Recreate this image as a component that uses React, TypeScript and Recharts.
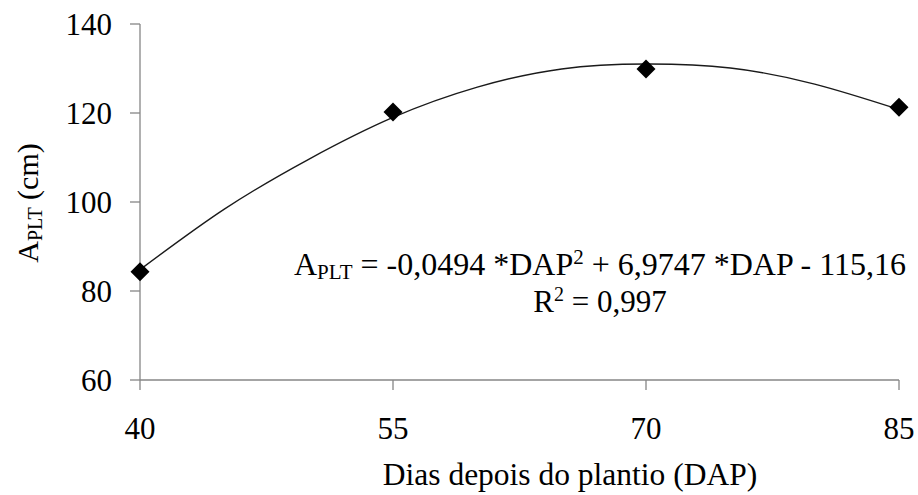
import React from 'react';
import { ComposedChart, Line, Scatter, XAxis, YAxis, Customized } from 'recharts';

// days after planting (DAP) and measured plant height, cm
const dayTicks = [40, 55, 70, 85];
const heightTicks = [60, 80, 100, 120, 140];
const observedDays = [40, 55, 70, 85];
const observedHeight = [84.3, 120.2, 129.9, 121.3];

// fitted quadratic trend, sampled every 5 days
const fitDays = [40, 45, 50, 55, 60, 65, 70, 75, 80, 85];
const fitHeight = [84.8, 98.4, 109.6, 119.0, 125.8, 129.9, 131.0, 130.1, 126.5, 120.8];

const observed = observedDays.map((day, i) => ({ day, height: observedHeight[i] }));
const fitted = fitDays.map((day, i) => ({ day, fit: fitHeight[i] }));

const FONT = 'Liberation Serif';
const AXIS_GREY = '#868686';

const Diamond = (props: any) => {
  const { cx, cy } = props;
  const r = 9.5;
  return (
    <path
      d={`M${cx},${cy - r}L${cx + r},${cy}L${cx},${cy + r}L${cx - r},${cy}Z`}
      fill="#000"
    />
  );
};

const Annotations = () => (
  <g fontFamily={FONT} fill="#000">
    <text x={38} y={203} fontSize={30} textAnchor="middle" transform="rotate(-90, 38, 203)">
      A<tspan fontSize={20} dy={4}>PLT</tspan>
      <tspan dy={-4}> (cm)</tspan>
    </text>
    <text x={570} y={485} fontSize={31.5} textAnchor="middle">
      Dias depois do plantio (DAP)
    </text>
    <text x={600} y={275} fontSize={32} textAnchor="middle">
      A<tspan fontSize={21} dy={4}>PLT</tspan>
      <tspan dy={-4}> = -0,0494 *DAP</tspan>
      <tspan fontSize={21} dy={-11}>2</tspan>
      <tspan dy={11}> + 6,9747 *DAP - 115,16</tspan>
    </text>
    <text x={600} y={312} fontSize={31} textAnchor="middle">
      R<tspan fontSize={20} dy={-11}>2</tspan>
      <tspan dy={11}> = 0,997</tspan>
    </text>
  </g>
);

export default function App() {
  return (
    <div style={{ position: 'absolute', left: 0, top: 0, width: 918, height: 495, background: '#fff' }}>
      <ComposedChart width={918} height={495} margin={{ top: 24, right: 19, bottom: 75, left: 80 }}>
        <XAxis
          dataKey="day"
          type="number"
          domain={[40, 85]}
          ticks={dayTicks}
          height={40}
          stroke={AXIS_GREY}
          strokeWidth={1.3}
          tickSize={10}
          tickMargin={27}
          tick={{ fill: '#000', fontSize: 31, fontFamily: FONT }}
        />
        <YAxis
          type="number"
          domain={[60, 140]}
          ticks={heightTicks}
          width={60}
          stroke={AXIS_GREY}
          strokeWidth={1.3}
          tickSize={10}
          tickMargin={18}
          tick={{ fill: '#000', fontSize: 31, fontFamily: FONT }}
        />
        <Line
          data={fitted}
          dataKey="fit"
          type="natural"
          stroke="#1a1a1a"
          strokeWidth={1.4}
          dot={false}
          activeDot={false}
          isAnimationActive={false}
        />
        <Scatter
          data={observed}
          dataKey="height"
          shape={<Diamond />}
          isAnimationActive={false}
        />
        <Customized component={Annotations} />
      </ComposedChart>
    </div>
  );
}
